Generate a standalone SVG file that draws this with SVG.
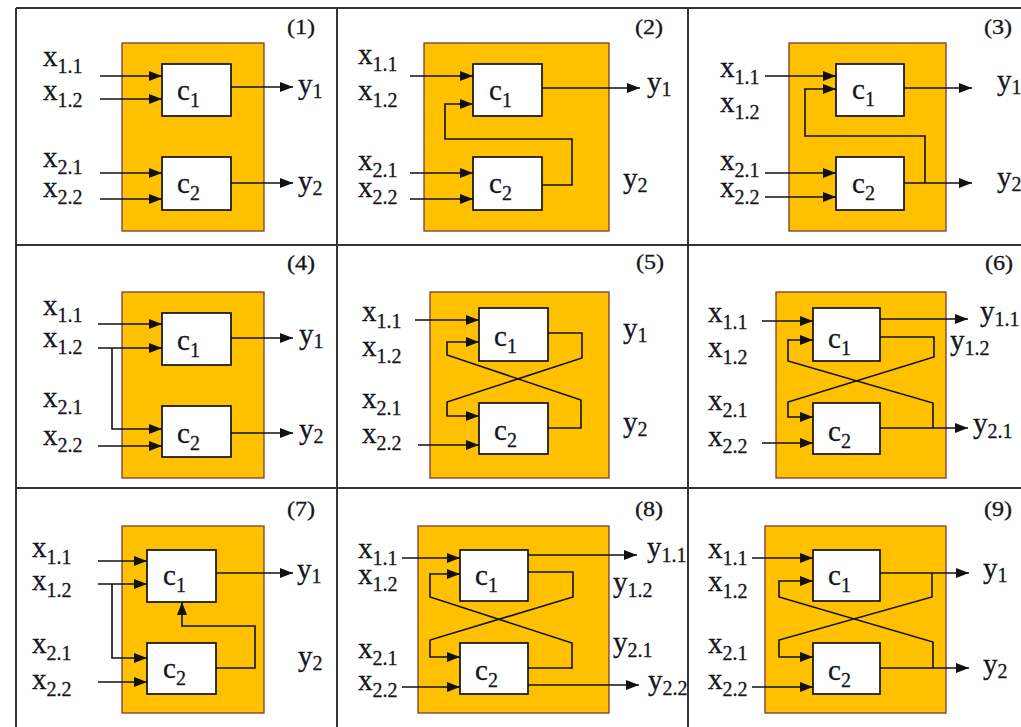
<svg xmlns="http://www.w3.org/2000/svg" width="1021" height="727" viewBox="0 0 1021 727">
<style>
.grid{stroke:#333;stroke-width:2;fill:none}
.panel{fill:#FFC000;stroke:#7a3b3b;stroke-width:1.3}
.box{fill:#fff;stroke:#111;stroke-width:1.7}
.ln{fill:none;stroke:#111;stroke-width:1.6}
.arr{marker-end:url(#ah)}
text{font-family:"Liberation Serif","Times New Roman",serif;fill:#15151c;stroke:#15151c;stroke-width:0.3}
.t{font-size:29px}
.s{font-size:20px}
.n{font-size:21px}
</style>
<defs>
<marker id="ah" markerWidth="14" markerHeight="10" refX="13" refY="5" orient="auto" markerUnits="userSpaceOnUse"><path d="M0,0 L13,5 L0,10 z" fill="#111"/></marker>
</defs>
<rect width="1021" height="727" fill="#fff"/>
<g id="grid" class="grid">
<path d="M16,8 H1021 M16,245 H1021 M16,488 H1021 M16,8 V727 M337,8 V727 M688,8 V727"/>
</g>

<!-- Cell 1 -->
<g id="cell1">
<rect class="panel" x="122" y="43" width="142" height="188"/>
<g id="c1-1"><rect class="box" x="162" y="64" width="69" height="52"/><text class="t" x="177" y="100">c<tspan class="s" dy="7">1</tspan></text></g>
<g id="c2-1"><rect class="box" x="162" y="157" width="69" height="53"/><text class="t" x="177" y="193">c<tspan class="s" dy="7">2</tspan></text></g>
<g id="conn1" class="ln">
<path class="arr" d="M100,76 H162"/><path class="arr" d="M100,99 H162"/><path class="arr" d="M100,173 H162"/><path class="arr" d="M100,199 H162"/>
<path class="arr" d="M231,87 H293"/><path class="arr" d="M231,183 H293"/>
</g>
<text class="n" transform="translate(287,34) scale(1.15,1)">(1)</text>
<text class="t" x="43" y="66">x<tspan class="s" dy="7">1.1</tspan></text>
<text class="t" x="43" y="100">x<tspan class="s" dy="7">1.2</tspan></text>
<text class="t" x="43" y="167">x<tspan class="s" dy="7">2.1</tspan></text>
<text class="t" x="43" y="197">x<tspan class="s" dy="7">2.2</tspan></text>
<text class="t" x="298" y="94">y<tspan class="s" dy="4">1</tspan></text>
<text class="t" x="298" y="191">y<tspan class="s" dy="4">2</tspan></text>
</g>

<!-- Cell 2 -->
<g id="cell2">
<rect class="panel" x="424" y="43" width="185" height="188"/>
<g id="c1-2"><rect class="box" x="473" y="64" width="69" height="52"/><text class="t" x="489" y="100">c<tspan class="s" dy="7">1</tspan></text></g>
<g id="c2-2"><rect class="box" x="473" y="157" width="69" height="53"/><text class="t" x="489" y="193">c<tspan class="s" dy="7">2</tspan></text></g>
<g id="conn2" class="ln">
<path class="arr" d="M410,76 H473"/><path class="arr" d="M410,173 H473"/><path class="arr" d="M410,199 H473"/>
<path class="arr" d="M542,88 H640"/>
<path class="arr" d="M542,185 H572 V139 H445 V104 H473"/>
</g>
<text class="n" transform="translate(635,34) scale(1.15,1)">(2)</text>
<text class="t" x="358" y="64">x<tspan class="s" dy="7">1.1</tspan></text>
<text class="t" x="358" y="100">x<tspan class="s" dy="7">1.2</tspan></text>
<text class="t" x="358" y="170">x<tspan class="s" dy="7">2.1</tspan></text>
<text class="t" x="358" y="197">x<tspan class="s" dy="7">2.2</tspan></text>
<text class="t" x="647" y="92">y<tspan class="s" dy="4">1</tspan></text>
<text class="t" x="623" y="188">y<tspan class="s" dy="4">2</tspan></text>
</g>

<!-- Cell 3 -->
<g id="cell3">
<rect class="panel" x="789" y="43" width="157" height="188"/>
<g id="c1-3"><rect class="box" x="836" y="64" width="68" height="52"/><text class="t" x="852" y="99">c<tspan class="s" dy="7">1</tspan></text></g>
<g id="c2-3"><rect class="box" x="836" y="157" width="68" height="53"/><text class="t" x="852" y="193">c<tspan class="s" dy="7">2</tspan></text></g>
<g id="conn3" class="ln">
<path class="arr" d="M765,76 H836"/><path class="arr" d="M765,173 H836"/><path class="arr" d="M765,197 H836"/>
<path class="arr" d="M904,88 H972"/><path class="arr" d="M904,183 H972"/>
<path class="arr" d="M925,183 V136 H805 V89 H836"/>
</g>
<text class="n" transform="translate(984,34) scale(1.15,1)">(3)</text>
<text class="t" x="720" y="77">x<tspan class="s" dy="7">1.1</tspan></text>
<text class="t" x="720" y="112">x<tspan class="s" dy="7">1.2</tspan></text>
<text class="t" x="720" y="170">x<tspan class="s" dy="7">2.1</tspan></text>
<text class="t" x="720" y="197">x<tspan class="s" dy="7">2.2</tspan></text>
<text class="t" x="997" y="90">y<tspan class="s" dy="4">1</tspan></text>
<text class="t" x="997" y="187">y<tspan class="s" dy="4">2</tspan></text>
</g>

<!-- Cell 4 -->
<g id="cell4">
<rect class="panel" x="122" y="292" width="142" height="186"/>
<g id="c1-4"><rect class="box" x="162" y="313" width="69" height="52"/><text class="t" x="177" y="350">c<tspan class="s" dy="7">1</tspan></text></g>
<g id="c2-4"><rect class="box" x="162" y="406" width="69" height="51"/><text class="t" x="177" y="443">c<tspan class="s" dy="7">2</tspan></text></g>
<g id="conn4" class="ln">
<path class="arr" d="M98,324 H162"/><path class="arr" d="M98,348 H162"/>
<path class="arr" d="M112,348 V429 H162"/><path class="arr" d="M98,446 H162"/>
<path class="arr" d="M231,338 H293"/><path class="arr" d="M231,433 H293"/>
</g>
<text class="n" transform="translate(287,270) scale(1.15,1)">(4)</text>
<text class="t" x="43" y="315">x<tspan class="s" dy="7">1.1</tspan></text>
<text class="t" x="43" y="347">x<tspan class="s" dy="7">1.2</tspan></text>
<text class="t" x="43" y="407">x<tspan class="s" dy="7">2.1</tspan></text>
<text class="t" x="43" y="445">x<tspan class="s" dy="7">2.2</tspan></text>
<text class="t" x="299" y="344">y<tspan class="s" dy="4">1</tspan></text>
<text class="t" x="299" y="439">y<tspan class="s" dy="4">2</tspan></text>
</g>

<!-- Cell 5 -->
<g id="cell5">
<rect class="panel" x="430" y="292" width="179" height="186"/>
<g id="c1-5"><rect class="box" x="479" y="308" width="69" height="53"/><text class="t" x="494" y="346">c<tspan class="s" dy="7">1</tspan></text></g>
<g id="c2-5"><rect class="box" x="479" y="403" width="69" height="51"/><text class="t" x="494" y="440">c<tspan class="s" dy="7">2</tspan></text></g>
<g id="conn5" class="ln">
<path class="arr" d="M415,320 H479"/><path class="arr" d="M418,445 H479"/>
<path class="arr" d="M548,333 H582 V358 L447,402 V416 H479"/>
<path class="arr" d="M548,428 H581 V400 L447,355 V342 H479"/>
</g>
<text class="n" transform="translate(636,269) scale(1.15,1)">(5)</text>
<text class="t" x="362" y="321">x<tspan class="s" dy="7">1.1</tspan></text>
<text class="t" x="362" y="356">x<tspan class="s" dy="7">1.2</tspan></text>
<text class="t" x="362" y="408">x<tspan class="s" dy="7">2.1</tspan></text>
<text class="t" x="362" y="443">x<tspan class="s" dy="7">2.2</tspan></text>
<text class="t" x="623" y="338">y<tspan class="s" dy="4">1</tspan></text>
<text class="t" x="623" y="432">y<tspan class="s" dy="4">2</tspan></text>
</g>

<!-- Cell 6 -->
<g id="cell6">
<rect class="panel" x="776" y="292" width="170" height="186"/>
<g id="c1-6"><rect class="box" x="813" y="308" width="67" height="53"/><text class="t" x="828" y="348">c<tspan class="s" dy="7">1</tspan></text></g>
<g id="c2-6"><rect class="box" x="813" y="403" width="67" height="51"/><text class="t" x="828" y="441">c<tspan class="s" dy="7">2</tspan></text></g>
<g id="conn6" class="ln">
<path class="arr" d="M762,321 H813"/><path class="arr" d="M762,443 H813"/>
<path class="arr" d="M880,319 H968"/>
<path class="arr" d="M880,337 H934 V357 L788,402 V417 H813"/>
<path class="arr" d="M880,428 H968"/>
<path class="arr" d="M933,428 V403 L788,361 V340 H813"/>
</g>
<text class="n" transform="translate(985,270) scale(1.15,1)">(6)</text>
<text class="t" x="708" y="322">x<tspan class="s" dy="7">1.1</tspan></text>
<text class="t" x="708" y="357">x<tspan class="s" dy="7">1.2</tspan></text>
<text class="t" x="708" y="410">x<tspan class="s" dy="7">2.1</tspan></text>
<text class="t" x="708" y="446">x<tspan class="s" dy="7">2.2</tspan></text>
<text class="t" x="980" y="321">y<tspan class="s" dy="5">1.1</tspan></text>
<text class="t" x="950" y="350">y<tspan class="s" dy="5">1.2</tspan></text>
<text class="t" x="973" y="433">y<tspan class="s" dy="5">2.1</tspan></text>
</g>

<!-- Cell 7 -->
<g id="cell7">
<rect class="panel" x="122" y="526" width="142" height="187"/>
<g id="c1-7"><rect class="box" x="147" y="550" width="69" height="52"/><text class="t" x="163" y="585">c<tspan class="s" dy="7">1</tspan></text></g>
<g id="c2-7"><rect class="box" x="147" y="643" width="69" height="51"/><text class="t" x="163" y="678">c<tspan class="s" dy="7">2</tspan></text></g>
<g id="conn7" class="ln">
<path class="arr" d="M98,561 H147"/><path class="arr" d="M98,584 H147"/>
<path class="arr" d="M112,584 V658 H147"/><path class="arr" d="M98,682 H147"/>
<path class="arr" d="M216,573 H293"/>
<path class="arr" d="M216,668 H255 V626 H182 V602"/>
</g>
<text class="n" transform="translate(287,516) scale(1.15,1)">(7)</text>
<text class="t" x="32" y="557">x<tspan class="s" dy="7">1.1</tspan></text>
<text class="t" x="32" y="590">x<tspan class="s" dy="7">1.2</tspan></text>
<text class="t" x="32" y="653">x<tspan class="s" dy="7">2.1</tspan></text>
<text class="t" x="32" y="689">x<tspan class="s" dy="7">2.2</tspan></text>
<text class="t" x="297" y="579">y<tspan class="s" dy="4">1</tspan></text>
<text class="t" x="298" y="666">y<tspan class="s" dy="4">2</tspan></text>
</g>

<!-- Cell 8 -->
<g id="cell8">
<rect class="panel" x="418" y="526" width="191" height="187"/>
<g id="c1-8"><rect class="box" x="460" y="550" width="68" height="51"/><text class="t" x="475" y="585">c<tspan class="s" dy="7">1</tspan></text></g>
<g id="c2-8"><rect class="box" x="460" y="643" width="68" height="51"/><text class="t" x="475" y="680">c<tspan class="s" dy="7">2</tspan></text></g>
<g id="conn8" class="ln">
<path class="arr" d="M402,558 H460"/><path class="arr" d="M402,687 H460"/>
<path class="arr" d="M528,555 H637"/><path class="arr" d="M528,685 H639"/>
<path class="arr" d="M528,572 H573 V597 L430,640 V657 H460"/>
<path class="arr" d="M528,668 H572 V643 L430,597 V574 H460"/>
</g>
<text class="n" transform="translate(635,516) scale(1.15,1)">(8)</text>
<text class="t" x="358" y="558">x<tspan class="s" dy="7">1.1</tspan></text>
<text class="t" x="358" y="584">x<tspan class="s" dy="7">1.2</tspan></text>
<text class="t" x="358" y="658">x<tspan class="s" dy="7">2.1</tspan></text>
<text class="t" x="358" y="690">x<tspan class="s" dy="7">2.2</tspan></text>
<text class="t" x="647" y="557">y<tspan class="s" dy="5">1.1</tspan></text>
<text class="t" x="613" y="592">y<tspan class="s" dy="5">1.2</tspan></text>
<text class="t" x="613" y="652">y<tspan class="s" dy="5">2.1</tspan></text>
<text class="t" x="648" y="690">y<tspan class="s" dy="5">2.2</tspan></text>
</g>

<!-- Cell 9 -->
<g id="cell9">
<rect class="panel" x="765" y="526" width="181" height="187"/>
<g id="c1-9"><rect class="box" x="813" y="550" width="67" height="51"/><text class="t" x="828" y="585">c<tspan class="s" dy="7">1</tspan></text></g>
<g id="c2-9"><rect class="box" x="813" y="643" width="67" height="51"/><text class="t" x="828" y="680">c<tspan class="s" dy="7">2</tspan></text></g>
<g id="conn9" class="ln">
<path class="arr" d="M752,558 H813"/><path class="arr" d="M752,687 H813"/>
<path class="arr" d="M880,573 H969"/><path class="arr" d="M880,668 H969"/>
<path class="arr" d="M932,573 V597 L779,640 V657 H813"/>
<path class="arr" d="M933,668 V642 L779,597 V581 H813"/>
</g>
<text class="n" transform="translate(984,516) scale(1.15,1)">(9)</text>
<text class="t" x="708" y="558">x<tspan class="s" dy="7">1.1</tspan></text>
<text class="t" x="708" y="591">x<tspan class="s" dy="7">1.2</tspan></text>
<text class="t" x="708" y="653">x<tspan class="s" dy="7">2.1</tspan></text>
<text class="t" x="708" y="689">x<tspan class="s" dy="7">2.2</tspan></text>
<text class="t" x="983" y="578">y<tspan class="s" dy="4">1</tspan></text>
<text class="t" x="983" y="674">y<tspan class="s" dy="4">2</tspan></text>
</g>
</svg>
